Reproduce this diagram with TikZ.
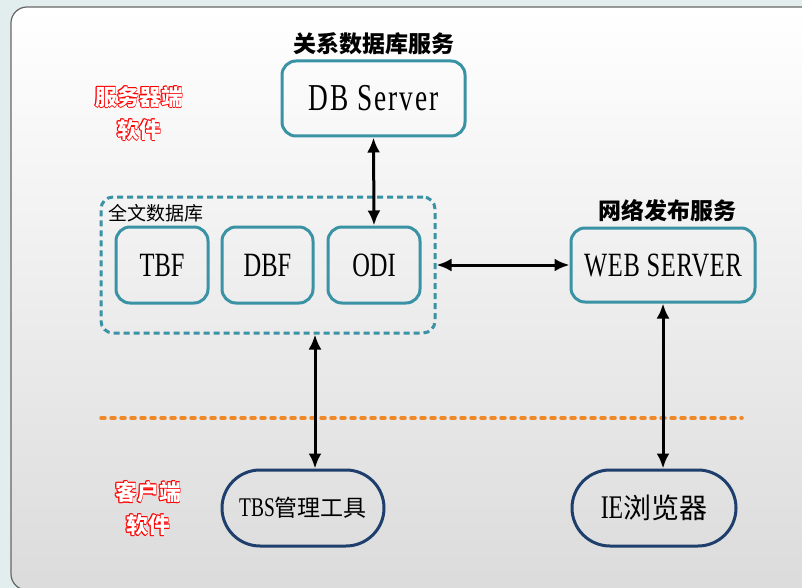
\documentclass[tikz,border=0pt]{standalone}
\usepackage{fontspec}
\setmainfont{Liberation Serif}
\newfontfamily\cjk{Noto Sans CJK SC}
\newfontfamily\narrowserif[FakeStretch=0.72]{Liberation Serif}
\usetikzlibrary{arrows.meta}

\definecolor{boxteal}{RGB}{58,146,165}
\definecolor{clientblue}{RGB}{30,62,108}
\definecolor{splitorange}{RGB}{240,136,40}
\definecolor{pagebg}{RGB}{226,238,238}

% red hollow lettering
\newcommand{\hollowred}[1]{%
  \leavevmode
  \rlap{\kern0.9pt\textcolor{red}{#1}}%
  \rlap{\kern-0.9pt\textcolor{red}{#1}}%
  \rlap{\raisebox{0.9pt}{\textcolor{red}{#1}}}%
  \rlap{\raisebox{-0.9pt}{\textcolor{red}{#1}}}%
  \rlap{\kern0.65pt\raisebox{0.65pt}{\textcolor{red}{#1}}}%
  \rlap{\kern-0.65pt\raisebox{0.65pt}{\textcolor{red}{#1}}}%
  \rlap{\kern0.65pt\raisebox{-0.65pt}{\textcolor{red}{#1}}}%
  \rlap{\kern-0.65pt\raisebox{-0.65pt}{\textcolor{red}{#1}}}%
  \textcolor{white}{#1}}

\begin{document}
\begin{tikzpicture}[x=1pt,y=-1pt,
  srvbox/.style={draw=boxteal, line width=3pt, rounded corners=14pt, inner sep=0pt,
    font=\narrowserif\fontsize{34}{36}\selectfont},
  groupbox/.style={draw=boxteal, line width=3pt, dash pattern=on 6pt off 4pt,
    rounded corners=12pt, minimum width=334pt, minimum height=136pt},
  clientbox/.style={draw=clientblue, line width=3pt, rounded corners=38pt,
    minimum width=162pt, minimum height=76pt, inner sep=0pt},
  caption/.style={inner sep=0pt, font=\cjk\bfseries\fontsize{23}{26}\selectfont},
  sidenote/.style={inner sep=0pt, font=\cjk\bfseries\fontsize{22}{24}\selectfont},
  link/.style={draw=black, line width=3pt, >={Latex[length=15pt,width=13pt]}, <->}]

% Page and panel
\useasboundingbox (0,0) rectangle (802,588);
\fill[pagebg] (0,0) rectangle (802,588);
\draw[top color=white, bottom color=black!14, draw=black!60, line width=1.2pt,
  rounded corners=16pt] (11,7) rectangle (830,590);

% Server side
\node[caption] (dbcap) at (374,44) {关系数据库服务};
\node[srvbox, minimum width=183pt, minimum height=75pt] (dbsrv) at (373.5,98.5)
  {\fontsize{38}{40}\selectfont\addfontfeature{LetterSpace=5}DB Server};

\node[sidenote] (srvsw1) at (139,97) {\hollowred{服务器端}};
\node[sidenote] (srvsw2) at (139,130) {\hollowred{软件}};

% Full text database group
\node[groupbox] (ftdb) at (268,265) {};
\node[anchor=west, inner sep=0pt, font=\cjk\fontsize{19}{21}\selectfont] (ftcap) at (108,213) {全文数据库};
\node[srvbox, minimum width=92pt, minimum height=76pt] (tbf) at (162,265) {TBF};
\node[srvbox, minimum width=91pt, minimum height=76pt] (dbf) at (267.5,265) {DBF};
\node[srvbox, minimum width=92pt, minimum height=76pt] (odi) at (374,265) {ODI};

% Web publishing
\node[caption] (webcap) at (667,211) {网络发布服务};
\node[srvbox, minimum width=184pt, minimum height=74pt] (websrv) at (663,265)
  {\addfontfeature{LetterSpace=2}WEB SERVER};

% Split line
\coordinate (splitL) at (101,418);
\coordinate (splitR) at (742,418);
\draw[splitorange, line width=3.5pt, line cap=round, dash pattern=on 4pt off 6pt] (splitL) -- (splitR);

% Client side
\node[sidenote] (cltsw1) at (148,492) {\hollowred{客户端}};
\node[sidenote] (cltsw2) at (148,525) {\hollowred{软件}};
\node[clientbox] (tbs) at (303,508)
  {\narrowserif\fontsize{27}{30}\selectfont TBS\cjk\fontsize{23}{26}\selectfont 管理工具};
\node[clientbox, minimum width=164pt] (ie) at (654,508)
  {\narrowserif\fontsize{33}{36}\selectfont IE\cjk\fontsize{28}{30}\selectfont 浏览器};

% Connections
\draw[link] (dbsrv.south) -- (odi.north);
\draw[link] (ftdb.east) -- (websrv.west);
\draw[link] ([xshift=12pt]tbs.north |- ftdb.south) -- ([xshift=12pt]tbs.north);
\draw[link] (websrv.south) -- (websrv.south |- ie.north);

\end{tikzpicture}
\end{document}
